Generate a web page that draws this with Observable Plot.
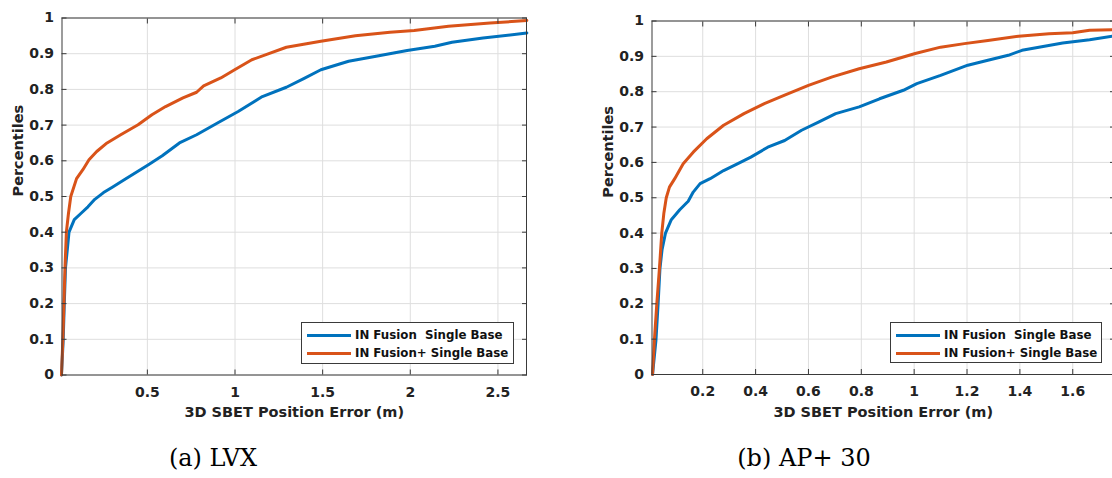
<!DOCTYPE html>
<html><head><meta charset="utf-8">
<script src="https://cdn.jsdelivr.net/npm/d3@7"></script>
<script src="https://cdn.jsdelivr.net/npm/@observablehq/plot@0.6"></script>
<style>
html,body{margin:0;padding:0;background:#fff;overflow:hidden;}
#fig{position:relative;width:1112px;height:478px;overflow:hidden;font-family:"DejaVu Sans",sans-serif;}
.panel{position:absolute;top:0;}
.legend{position:absolute;background:#fff;border:1px solid #3a3a3a;box-sizing:border-box;font-weight:bold;font-size:11.8px;color:#111;}
.legend .row{position:absolute;left:0;height:18px;display:flex;align-items:center;white-space:pre;}
.legend .sw{width:44px;height:3px;margin-left:5px;margin-right:4px;}
.caption{position:absolute;font-family:"DejaVu Serif",serif;font-size:24px;color:#000;transform:translate(-50%,-50%);white-space:nowrap;}
</style></head><body><div id="fig"></div>
<script>
// ---------- data ----------
const seriesNames = ["IN Fusion  Single Base", "IN Fusion+ Single Base"];
const seriesColors = ["#0072BD", "#D95319"];

// (a) LVX
const lvxBlueX = [0.01,0.02,0.026,0.033,0.043,0.053,0.083,0.122,0.161,0.2,0.25,0.3,0.368,0.506,0.585,0.683,0.781,0.9,1.018,1.156,1.293,1.392,1.49,1.648,1.805,1.982,2.14,2.238,2.415,2.665];
const lvxBlueY = [0,0.1,0.2,0.3,0.35,0.4,0.435,0.453,0.471,0.492,0.511,0.526,0.547,0.589,0.614,0.65,0.673,0.706,0.738,0.78,0.806,0.83,0.855,0.879,0.893,0.909,0.921,0.932,0.944,0.958];
const lvxOrangeX = [0.01,0.018,0.024,0.03,0.038,0.05,0.063,0.096,0.132,0.167,0.211,0.27,0.348,0.447,0.526,0.604,0.703,0.781,0.821,0.919,0.998,1.096,1.185,1.293,1.49,1.687,1.884,2.022,2.218,2.455,2.665];
const lvxOrangeY = [0,0.1,0.2,0.3,0.4,0.453,0.5,0.55,0.575,0.603,0.626,0.65,0.673,0.701,0.729,0.752,0.776,0.792,0.81,0.832,0.855,0.883,0.899,0.918,0.935,0.95,0.96,0.965,0.977,0.986,0.993];

// (b) AP+ 30
const apBlueX = [0.01,0.023,0.031,0.038,0.046,0.059,0.081,0.113,0.145,0.164,0.19,0.228,0.279,0.331,0.382,0.446,0.51,0.574,0.638,0.703,0.792,0.869,0.959,1.01,1.1,1.203,1.279,1.356,1.408,1.472,1.562,1.664,1.751];
const apBlueY = [0,0.097,0.198,0.299,0.353,0.4,0.438,0.466,0.49,0.516,0.54,0.554,0.577,0.596,0.615,0.643,0.662,0.691,0.714,0.738,0.757,0.78,0.804,0.823,0.846,0.875,0.889,0.903,0.917,0.926,0.938,0.947,0.957];
const apOrangeX = [0.01,0.017,0.026,0.036,0.045,0.053,0.062,0.074,0.094,0.126,0.164,0.215,0.279,0.356,0.433,0.51,0.6,0.69,0.792,0.895,1.004,1.1,1.19,1.279,1.395,1.51,1.6,1.664,1.751];
const apOrangeY = [0,0.097,0.198,0.299,0.4,0.457,0.5,0.53,0.554,0.596,0.629,0.667,0.705,0.738,0.766,0.79,0.818,0.842,0.865,0.884,0.908,0.926,0.936,0.945,0.957,0.964,0.967,0.974,0.975];

// ticks
const yTicks = [0,0.1,0.2,0.3,0.4,0.5,0.6,0.7,0.8,0.9,1];
const lvxXTicks = [0.5,1,1.5,2,2.5];
const apXTicks = [0.2,0.4,0.6,0.8,1,1.2,1.4,1.6];
const lvxXDomain = [0.013, 2.663];
const apXDomain = [0.008, 1.758];
const xLabel = "3D SBET Position Error (m)";
const yLabel = "Percentiles";
const captions = ["(a) LVX", "(b) AP+ 30"];

// ---------- build ----------
function toRows(xs, ys, s) { return xs.map((x, i) => ({x, y: ys[i], s})); }

const axisColor = "#222";
function panel({rows, xTicks, xDomain, left, width, mL, mR, mT, mB}) {
  const h = 430;
  const txt = {fontSize: 14, fontWeight: "bold", fill: axisColor};
  const p = Plot.plot({
    width, height: h,
    marginLeft: mL, marginRight: mR, marginTop: mT, marginBottom: mB,
    style: {fontFamily: "'DejaVu Sans', sans-serif", background: "transparent", overflow: "visible"},
    x: {domain: xDomain, axis: null},
    y: {domain: [0, 1], axis: null},
    color: {domain: seriesNames, range: seriesColors},
    marks: [
      Plot.gridX(xTicks, {stroke: "#dedede", strokeOpacity: 1, strokeWidth: 1}),
      Plot.gridY(yTicks, {stroke: "#dedede", strokeOpacity: 1, strokeWidth: 1}),
      Plot.line(rows, {x: "x", y: "y", stroke: "s", z: "s", strokeWidth: 3, curve: "linear"}),
      Plot.frame({stroke: "#3a3a3a", strokeWidth: 1}),
      // inward ticks on all four sides
      Plot.axisX(xTicks, {anchor: "bottom", tickSize: 5, dy: -5, tickFormat: () => "", label: null, stroke: "#3a3a3a"}),
      Plot.axisX(xTicks, {anchor: "top", tickSize: 5, dy: 5, tickFormat: () => "", label: null, stroke: "#3a3a3a"}),
      Plot.axisY(yTicks, {anchor: "left", tickSize: 5, dx: 5, tickFormat: () => "", label: null, stroke: "#3a3a3a"}),
      Plot.axisY(yTicks, {anchor: "right", tickSize: 5, dx: -5, tickFormat: () => "", label: null, stroke: "#3a3a3a"}),
      // tick labels
      Plot.axisX(xTicks, {anchor: "bottom", tickSize: 0, tickPadding: 12, tickFormat: d => String(d), label: null, ...txt}),
      Plot.axisY(yTicks, {anchor: "left", tickSize: 0, tickPadding: 8, tickFormat: d => String(d), label: null, ...txt}),
      // axis titles
      Plot.text([xLabel], {frameAnchor: "bottom", dy: 42, text: d => d, ...txt, fontSize: 14.5}),
      Plot.text([yLabel], {frameAnchor: "left", dx: -44, rotate: -90, text: d => d, ...txt, fontSize: 14.5})
    ]
  });
  p.classList.add("panel");
  p.style.left = left + "px";
  return p;
}

const fig = document.getElementById("fig");
fig.appendChild(panel({
  rows: [...toRows(lvxBlueX, lvxBlueY, seriesNames[0]), ...toRows(lvxOrangeX, lvxOrangeY, seriesNames[1])],
  xTicks: lvxXTicks, xDomain: lvxXDomain, left: 0, width: 560, mL: 61.5, mR: 34, mT: 17.5, mB: 55.5
}));
fig.appendChild(panel({
  rows: [...toRows(apBlueX, apBlueY, seriesNames[0]), ...toRows(apOrangeX, apOrangeY, seriesNames[1])],
  xTicks: apXTicks, xDomain: apXDomain, left: 560, width: 556, mL: 91.5, mR: 2, mT: 20.5, mB: 56
}));

function legend(x, y, w, h) {
  const d = document.createElement("div");
  d.className = "legend";
  Object.assign(d.style, {left: x + "px", top: y + "px", width: w + "px", height: h + "px"});
  seriesNames.forEach((n, i) => {
    const r = document.createElement("div");
    r.className = "row";
    r.style.top = (3 + i * 18) + "px";
    const sw = document.createElement("div");
    sw.className = "sw";
    sw.style.background = seriesColors[i];
    const t = document.createElement("span");
    t.textContent = n;
    r.appendChild(sw); r.appendChild(t);
    d.appendChild(r);
  });
  fig.appendChild(d);
}
legend(301, 322, 213, 42);
legend(890, 322, 212, 41);

[[213, 458], [804, 458]].forEach(([cx, cy], i) => {
  const c = document.createElement("div");
  c.className = "caption";
  c.style.left = cx + "px";
  c.style.top = cy + "px";
  c.textContent = captions[i];
  fig.appendChild(c);
});
</script>
</body></html>
